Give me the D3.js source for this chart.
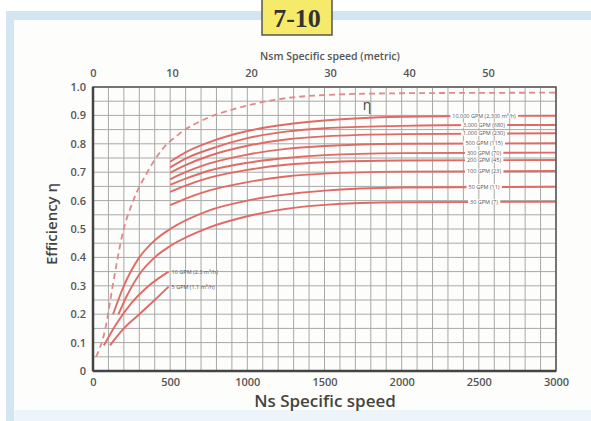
<!DOCTYPE html>
<html><head><meta charset="utf-8">
<script src="https://cdn.jsdelivr.net/npm/d3@7"></script>
<style>body{margin:0;background:#fff}svg{display:block}</style>
</head><body>
<script>
// ---- data ----
const xTicks = [0, 500, 1000, 1500, 2000, 2500, 3000];
const yTicks = [0, 0.1, 0.2, 0.3, 0.4, 0.5, 0.6, 0.7, 0.8, 0.9, 1.0];
const topTicks = [0, 10, 20, 30, 40, 50];
const etaEnvelope = [[20,0.05],[78,0.144],[131,0.31],[190,0.48],[261,0.60],[348,0.696],[445,0.778],[564,0.837],[737,0.89],[931,0.925],[1168,0.954],[1514,0.972],[2000,0.978],[3000,0.98]];
const gpm10000 = [[500,0.737],[600,0.77],[750,0.805],[1000,0.845],[1250,0.868],[1500,0.882],[2000,0.895],[2500,0.898],[3000,0.899]];
const gpm3000 = [[500,0.717],[600,0.748],[750,0.78],[1000,0.82],[1250,0.843],[1500,0.855],[2000,0.863],[2500,0.866],[3000,0.866]];
const gpm1000 = [[500,0.698],[600,0.725],[750,0.757],[1000,0.793],[1250,0.815],[1500,0.826],[2000,0.834],[3000,0.837]];
const gpm500 = [[500,0.675],[600,0.7],[750,0.73],[1000,0.762],[1250,0.782],[1500,0.792],[2000,0.8],[3000,0.802]];
const gpm300 = [[500,0.655],[600,0.677],[750,0.705],[1000,0.733],[1250,0.75],[1500,0.76],[2000,0.767],[3000,0.769]];
const gpm200 = [[500,0.631],[600,0.653],[750,0.68],[1000,0.708],[1250,0.726],[1500,0.735],[2000,0.741],[3000,0.743]];
const gpm100 = [[500,0.584],[600,0.607],[750,0.635],[1000,0.665],[1250,0.685],[1500,0.695],[2000,0.702],[3000,0.704]];
const gpm50 = [[130,0.2],[200,0.3],[300,0.4],[400,0.46],[500,0.5],[750,0.565],[1000,0.6],[1500,0.635],[2000,0.646],[3000,0.649]];
const gpm30 = [[165,0.2],[220,0.265],[300,0.34],[400,0.4],[500,0.44],[750,0.505],[1000,0.545],[1500,0.585],[2000,0.594],[3000,0.596]];
const gpm10 = [[70,0.09],[150,0.165],[250,0.24],[350,0.295],[490,0.35]];
const gpm5 = [[110,0.09],[200,0.15],[300,0.2],[400,0.25],[490,0.297]];
const seriesNames = ["10,000 GPM (2,300 m³/h)","3,000 GPM (680)","1,000 GPM (230)","500 GPM (115)","300 GPM (70)","200 GPM (45)","100 GPM (23)","50 GPM (11)","30 GPM (7)","10 GPM (2.3 m³/h)","5 GPM (1.1 m³/h)"];
const seriesData = [gpm10000,gpm3000,gpm1000,gpm500,gpm300,gpm200,gpm100,gpm50,gpm30,gpm10,gpm5];

const W = 591, H = 421;
const svg = d3.select("body").append("svg").attr("width", W).attr("height", H);

// frame
svg.append("rect").attr("x",6).attr("y",11).attr("width",W-6).attr("height",H-11).attr("fill","#d3e5f1");
svg.append("rect").attr("x",14).attr("y",20).attr("width",W-14).attr("height",390).attr("fill","#fdfdfb");
svg.append("rect").attr("x",14).attr("y",410).attr("width",W-14).attr("height",11).attr("fill","#eef5fa");

// title box
svg.append("rect").attr("x",262).attr("y",-2).attr("width",70).attr("height",37).attr("fill","#f6ea6a").attr("stroke","#555").attr("stroke-width",1.5);
svg.append("text").attr("x",297).attr("y",27).attr("text-anchor","middle")
  .attr("font-family","'Liberation Serif', serif").attr("font-weight","bold").attr("font-size",26).attr("fill","#333").text("7-10");

const x = d3.scaleLinear().domain([0,3000]).range([93,556]);
const y = d3.scaleLinear().domain([0,1]).range([371,87]);
const xTop = d3.scaleLinear().domain([0, 3000/51.2]).range([93,556]);

const g = svg.append("g");
// grid
g.append("g").selectAll("line").data(d3.range(0,3001,100)).join("line")
  .attr("x1",d=>x(d)).attr("x2",d=>x(d)).attr("y1",y(0)).attr("y2",y(1))
  .attr("stroke","#a8a8a8").attr("stroke-width",1);
g.append("g").selectAll("line").data(d3.range(0,21).map(i=>i*0.05)).join("line")
  .attr("y1",d=>y(d)).attr("y2",d=>y(d)).attr("x1",x(0)).attr("x2",x(3000))
  .attr("stroke","#a8a8a8").attr("stroke-width",1);

const line = d3.line().x(d=>x(d[0])).y(d=>y(d[1])).curve(d3.curveMonotoneX);

// envelope
g.append("path").datum(etaEnvelope).attr("d",line).attr("fill","none")
  .attr("stroke","#e08a8a").attr("stroke-width",1.8).attr("stroke-dasharray","6,4");

// series curves
g.append("g").selectAll("path").data(seriesData).join("path")
  .attr("d",line).attr("fill","none").attr("stroke","#e06a66").attr("stroke-width",1.9);

// labels on the right
const labX = 484;
seriesData.forEach((s,i)=>{
  const fs = 5.5;
  if (i < 9) {
    const yy = y(s[s.length-1][1]);
    const t = svg.append("text").attr("x",labX).attr("y",yy+2).attr("text-anchor","middle")
      .attr("font-family","'Open Sans', sans-serif").attr("font-size",fs).attr("fill","#555").text(seriesNames[i]);
    const bb = t.node().getBBox();
    svg.insert("rect", () => t.node()).attr("x",bb.x-2).attr("y",yy-2.5).attr("width",bb.width+4).attr("height",5).attr("fill","#fff");
  } else {
    const last = s[s.length-1];
    svg.append("text").attr("x",x(last[0])+3).attr("y",y(last[1])+2)
      .attr("font-family","'Open Sans', sans-serif").attr("font-size",fs).attr("fill","#555").text(seriesNames[i]);
  }
});

// eta label
svg.append("text").attr("x",367).attr("y",110).attr("text-anchor","middle")
  .attr("font-family","'Open Sans', sans-serif").attr("font-size",14).attr("fill","#444").text("η");

// frame of plot
svg.append("rect").attr("x",x(0)).attr("y",y(1)).attr("width",x(3000)-x(0)).attr("height",y(0)-y(1))
  .attr("fill","none").attr("stroke","#555").attr("stroke-width",1.5);
svg.append("line").attr("x1",x(0)).attr("x2",x(0)).attr("y1",y(1)).attr("y2",y(0)).attr("stroke","#444").attr("stroke-width",2.5);
svg.append("line").attr("x1",x(0)).attr("x2",x(3000)).attr("y1",y(0)).attr("y2",y(0)).attr("stroke","#444").attr("stroke-width",2.5);

const tickFont = sel => sel.attr("font-family","'Open Sans', sans-serif").attr("font-weight",600).attr("font-size",11).attr("fill","#555");

// axes via d3 axis generators
const ax = svg.append("g").attr("transform",`translate(0,${y(0)+4})`)
  .call(d3.axisBottom(x).tickValues(xTicks).tickSize(0).tickFormat(d3.format("d")));
ax.select(".domain").remove();
ax.selectAll("text").call(tickFont).attr("dy","0.71em");

const ay = svg.append("g").attr("transform",`translate(${x(0)-4},0)`)
  .call(d3.axisLeft(y).tickValues(yTicks).tickSize(0).tickFormat(d=> d===0 ? "0" : d3.format(".1f")(d)));
ay.select(".domain").remove();
ay.selectAll("text").call(tickFont);

const at = svg.append("g").attr("transform",`translate(0,${y(1)-7})`)
  .call(d3.axisTop(xTop).tickValues(topTicks).tickSize(0).tickFormat(d3.format("d")));
at.select(".domain").remove();
at.selectAll("text").call(tickFont);

// axis titles
svg.append("text").attr("x",325).attr("y",407).attr("text-anchor","middle")
  .attr("font-family","'Open Sans', sans-serif").attr("font-weight",600).attr("font-size",17).attr("fill","#444")
  .text("Ns  Specific speed");
svg.append("text").attr("x",330).attr("y",60).attr("text-anchor","middle")
  .attr("font-family","'Open Sans', sans-serif").attr("font-weight",600).attr("font-size",10.5).attr("fill","#555")
  .text("Nsm  Specific speed  (metric)");
svg.append("text").attr("transform","translate(57,224) rotate(-90)").attr("text-anchor","middle")
  .attr("font-family","'Open Sans', sans-serif").attr("font-weight",600).attr("font-size",15).attr("fill","#444")
  .text("Efficiency η");
</script>
</body></html>
